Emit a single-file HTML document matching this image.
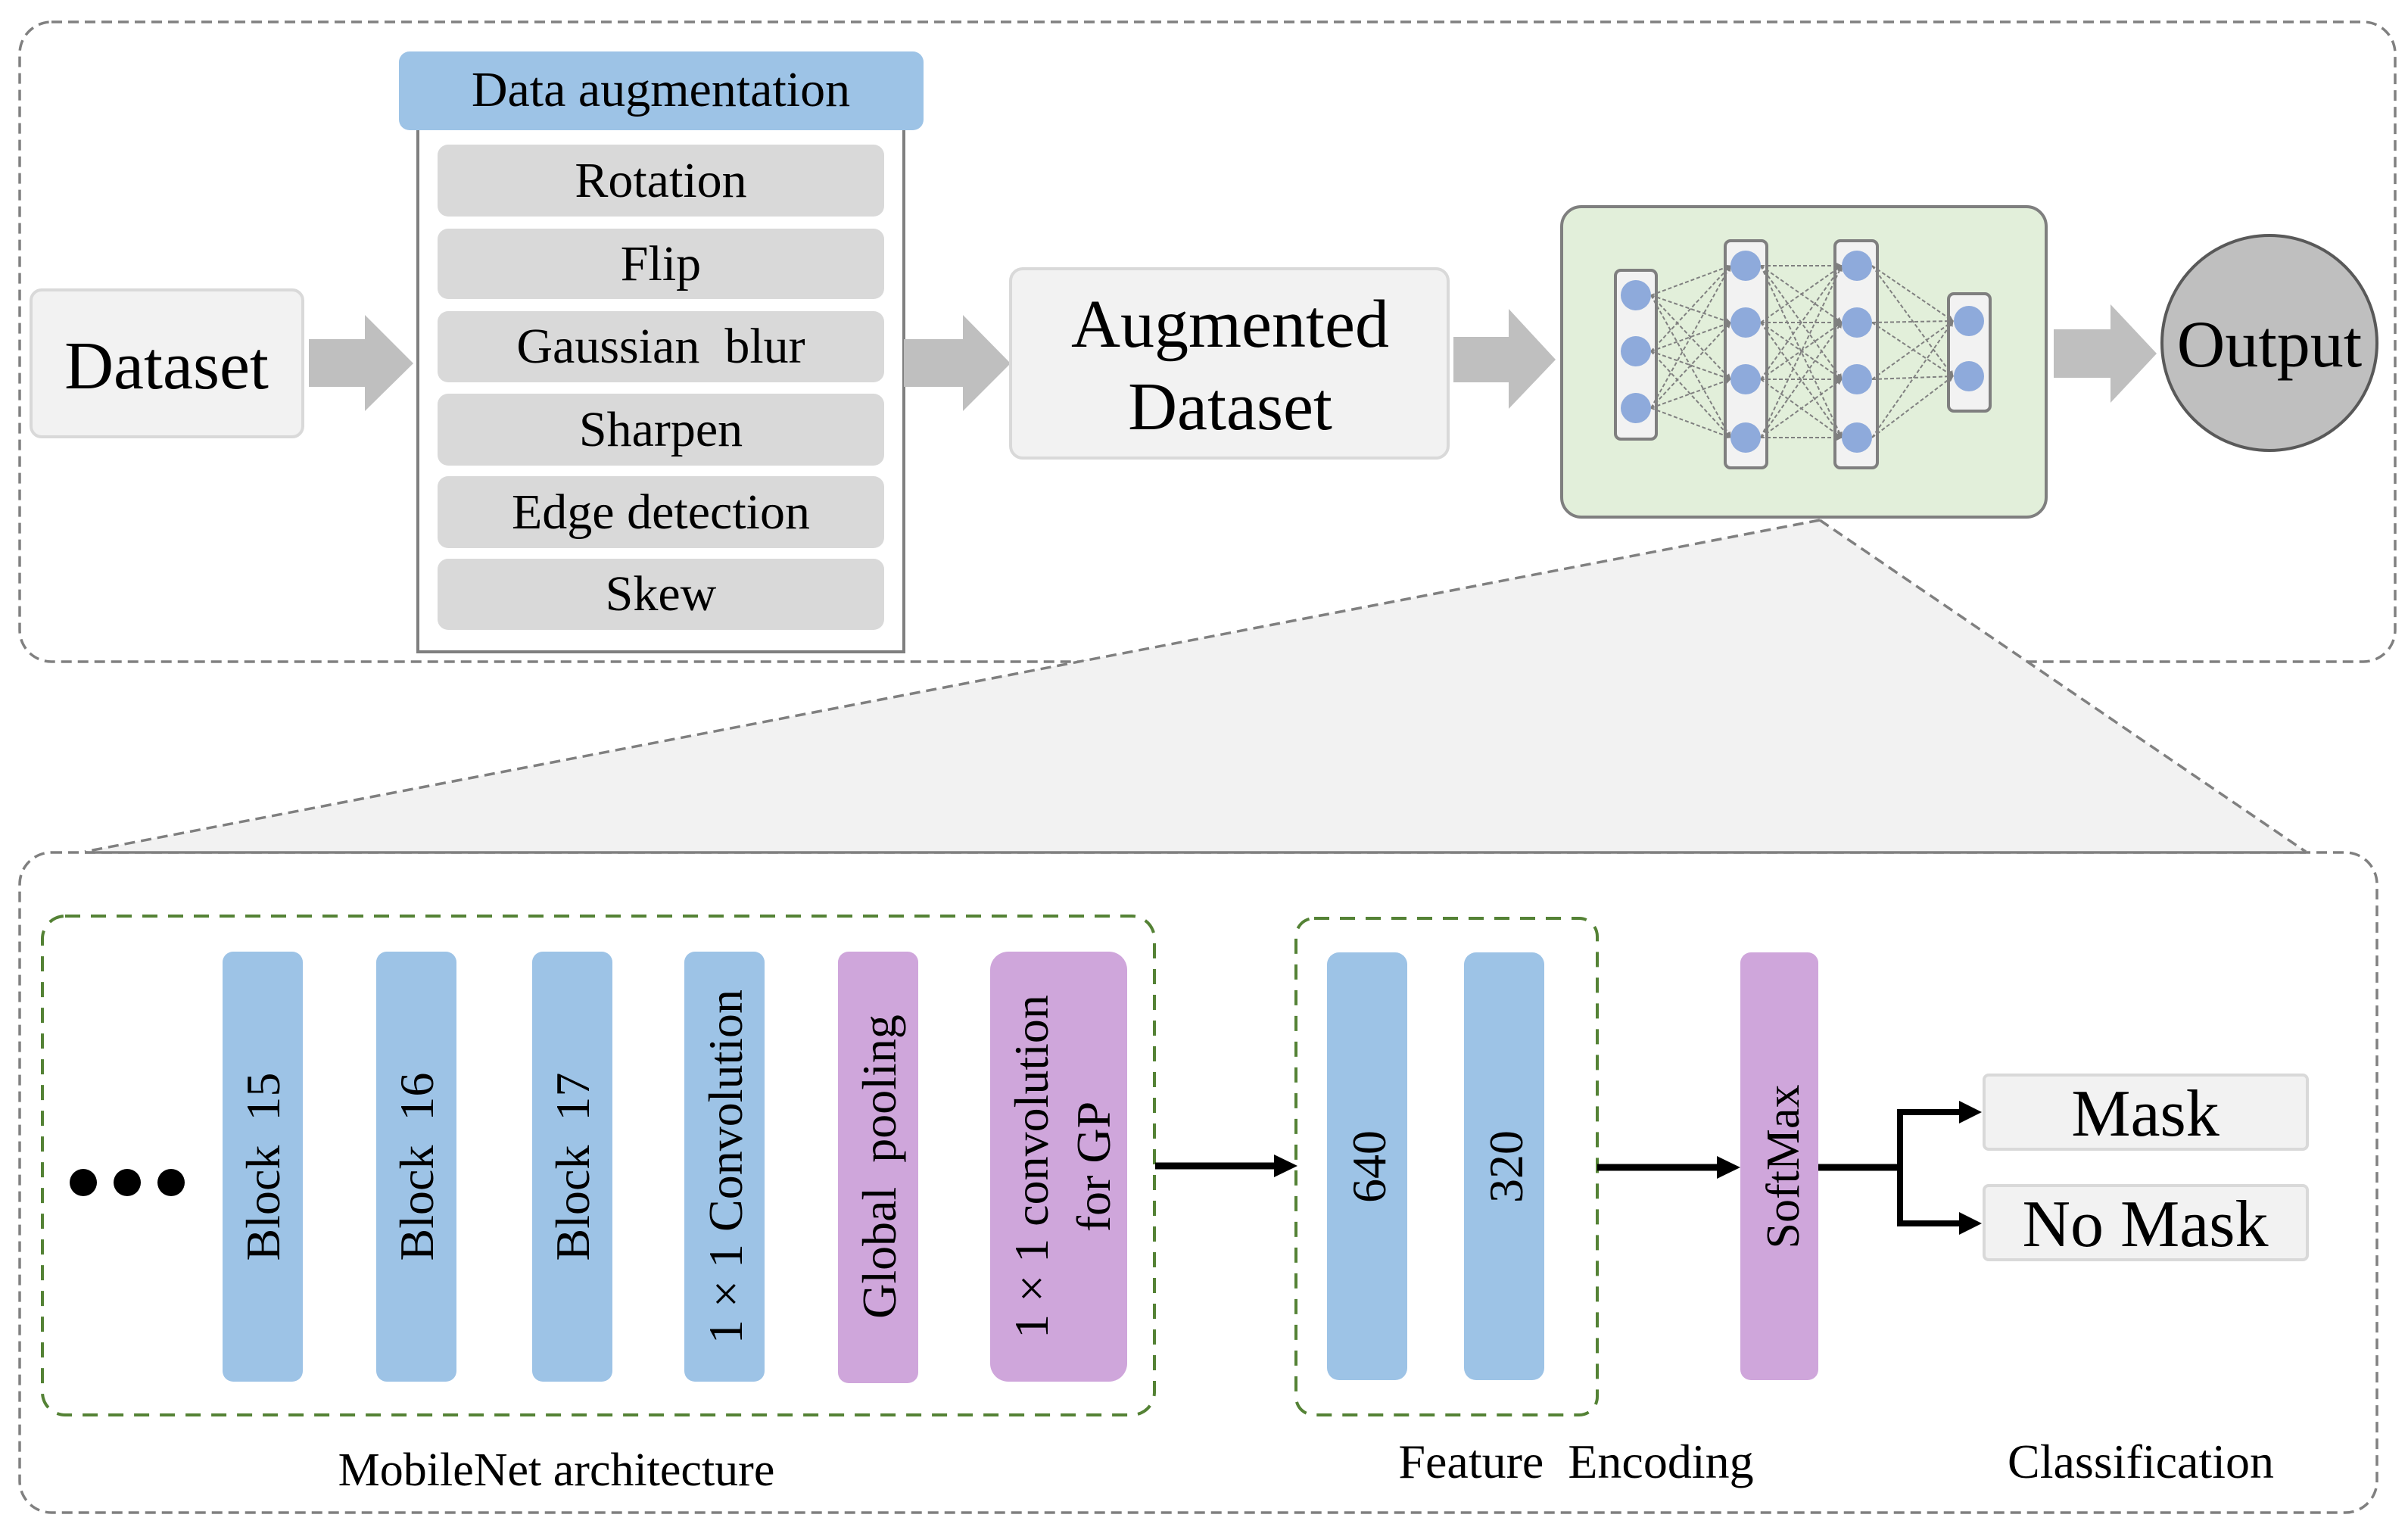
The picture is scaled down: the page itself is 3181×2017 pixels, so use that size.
<!DOCTYPE html>
<html><head><meta charset="utf-8"><style>
html,body{margin:0;padding:0;background:#fff;}
svg{display:block;}
text{font-family:"Liberation Serif",serif;fill:#000;}
</style></head><body>
<svg width="3181" height="2017" viewBox="0 0 3181 2017" xmlns="http://www.w3.org/2000/svg">
<defs>
<marker id="ah" markerWidth="8" markerHeight="8" refX="7" refY="4" orient="auto" markerUnits="userSpaceOnUse">
<path d="M0,0 L8,4 L0,8 z" fill="#7f7f7f"/></marker>
</defs>
<!-- top outer dashed box -->
<rect x="26" y="29" width="3138" height="845" rx="42" fill="none" stroke="#808080" stroke-width="3.5" stroke-dasharray="14 8"/>
<!-- bottom outer dashed box -->
<rect x="26" y="1126" width="3114" height="872" rx="42" fill="none" stroke="#808080" stroke-width="3.5" stroke-dasharray="14 8"/>
<!-- trapezoid zoom -->
<polygon points="2404,687 3046,1125 112,1125" fill="#f2f2f2"/>
<line x1="2404" y1="687" x2="112" y2="1125" stroke="#808080" stroke-width="3.5" stroke-dasharray="14 8"/>
<line x1="2404" y1="687" x2="3046" y2="1125" stroke="#808080" stroke-width="3.5" stroke-dasharray="14 8"/>
<line x1="112" y1="1126" x2="3046" y2="1126" stroke="#808080" stroke-width="3.5"/>

<!-- Dataset -->
<rect x="41" y="383" width="359" height="194" rx="14" fill="#f2f2f2" stroke="#d9d9d9" stroke-width="4"/>
<text x="220" y="513" font-size="90" text-anchor="middle">Dataset</text>
<!-- arrow1 -->
<polygon points="408,448 482,448 482,416 546,480 482,543 482,511 408,511" fill="#bfbfbf"/>
<!-- data augmentation container -->
<rect x="552" y="150" width="642" height="711" fill="#fff" stroke="#7f7f7f" stroke-width="4"/>
<rect x="527" y="68" width="693" height="104" rx="14" fill="#9dc3e6"/>
<text x="873" y="140" font-size="66" text-anchor="middle">Data augmentation</text>
<g font-size="66" text-anchor="middle">
<rect x="578" y="191" width="590" height="95" rx="14" fill="#d9d9d9"/><text x="873" y="260">Rotation</text>
<rect x="578" y="302" width="590" height="93" rx="14" fill="#d9d9d9"/><text x="873" y="370">Flip</text>
<rect x="578" y="411" width="590" height="94" rx="14" fill="#d9d9d9"/><text x="873" y="479">Gaussian&#160; blur</text>
<rect x="578" y="520" width="590" height="95" rx="14" fill="#d9d9d9"/><text x="873" y="589">Sharpen</text>
<rect x="578" y="629" width="590" height="95" rx="14" fill="#d9d9d9"/><text x="873" y="698">Edge detection</text>
<rect x="578" y="738" width="590" height="94" rx="14" fill="#d9d9d9"/><text x="873" y="806">Skew</text>
</g>
<!-- arrow2 -->
<polygon points="1194,448 1272,448 1272,416 1335,480 1272,543 1272,511 1194,511" fill="#bfbfbf"/>
<!-- augmented dataset -->
<rect x="1335" y="355" width="578" height="250" rx="16" fill="#f2f2f2" stroke="#d9d9d9" stroke-width="4"/>
<text x="1625" y="458" font-size="90" text-anchor="middle">Augmented</text>
<text x="1625" y="567" font-size="90" text-anchor="middle">Dataset</text>
<!-- arrow3 -->
<polygon points="1920,445 1993,445 1993,408 2055,475 1993,540 1993,505 1920,505" fill="#bfbfbf"/>
<!-- NN box -->
<rect x="2063" y="273" width="640" height="410" rx="26" fill="#e2efda" stroke="#7f7f7f" stroke-width="4"/>
<g fill="#f2f2f2" stroke="#7f7f7f" stroke-width="4">
<rect x="2134" y="357" width="54" height="223" rx="7"/>
<rect x="2279" y="318" width="55" height="300" rx="7"/>
<rect x="2424" y="318" width="56" height="300" rx="7"/>
<rect x="2574" y="388" width="55" height="155" rx="7"/>
</g>
<g stroke="#808080" stroke-width="2" stroke-dasharray="5 3" marker-end="url(#ah)">
<line x1="2181" y1="390" x2="2286" y2="351"/><line x1="2181" y1="390" x2="2286" y2="426"/><line x1="2181" y1="390" x2="2286" y2="501"/><line x1="2181" y1="390" x2="2286" y2="578"/>
<line x1="2181" y1="464" x2="2286" y2="351"/><line x1="2181" y1="464" x2="2286" y2="426"/><line x1="2181" y1="464" x2="2286" y2="501"/><line x1="2181" y1="464" x2="2286" y2="578"/>
<line x1="2181" y1="539" x2="2286" y2="351"/><line x1="2181" y1="539" x2="2286" y2="426"/><line x1="2181" y1="539" x2="2286" y2="501"/><line x1="2181" y1="539" x2="2286" y2="578"/>
<line x1="2326" y1="351" x2="2433" y2="351"/><line x1="2326" y1="351" x2="2433" y2="426"/><line x1="2326" y1="351" x2="2433" y2="501"/><line x1="2326" y1="351" x2="2433" y2="578"/>
<line x1="2326" y1="426" x2="2433" y2="351"/><line x1="2326" y1="426" x2="2433" y2="426"/><line x1="2326" y1="426" x2="2433" y2="501"/><line x1="2326" y1="426" x2="2433" y2="578"/>
<line x1="2326" y1="501" x2="2433" y2="351"/><line x1="2326" y1="501" x2="2433" y2="426"/><line x1="2326" y1="501" x2="2433" y2="501"/><line x1="2326" y1="501" x2="2433" y2="578"/>
<line x1="2326" y1="578" x2="2433" y2="351"/><line x1="2326" y1="578" x2="2433" y2="426"/><line x1="2326" y1="578" x2="2433" y2="501"/><line x1="2326" y1="578" x2="2433" y2="578"/>
<line x1="2473" y1="351" x2="2580" y2="424"/><line x1="2473" y1="351" x2="2580" y2="497"/>
<line x1="2473" y1="426" x2="2580" y2="424"/><line x1="2473" y1="426" x2="2580" y2="497"/>
<line x1="2473" y1="501" x2="2580" y2="424"/><line x1="2473" y1="501" x2="2580" y2="497"/>
<line x1="2473" y1="578" x2="2580" y2="424"/><line x1="2473" y1="578" x2="2580" y2="497"/>
</g>
<g fill="#8eaadb">
<circle cx="2161" cy="390" r="20"/><circle cx="2161" cy="464" r="20"/><circle cx="2161" cy="539" r="20"/>
<circle cx="2306" cy="351" r="20"/><circle cx="2306" cy="426" r="20"/><circle cx="2306" cy="501" r="20"/><circle cx="2306" cy="578" r="20"/>
<circle cx="2453" cy="351" r="20"/><circle cx="2453" cy="426" r="20"/><circle cx="2453" cy="501" r="20"/><circle cx="2453" cy="578" r="20"/>
<circle cx="2601" cy="424" r="20"/><circle cx="2601" cy="497" r="20"/>
</g>
<!-- arrow4 -->
<polygon points="2713,435 2788,435 2788,402 2849,467 2788,532 2788,499 2713,499" fill="#bfbfbf"/>
<!-- output -->
<circle cx="2998" cy="453" r="142" fill="#bfbfbf" stroke="#595959" stroke-width="4"/>
<text x="2998" y="484" font-size="88" text-anchor="middle">Output</text>

<!-- Mobilenet dashed green -->
<rect x="56" y="1210" width="1469" height="659" rx="30" fill="none" stroke="#548235" stroke-width="4" stroke-dasharray="20 14"/>
<circle cx="110" cy="1562" r="18"/><circle cx="168" cy="1562" r="18"/><circle cx="226" cy="1562" r="18"/>
<g fill="#9dc3e6">
<rect x="294" y="1257" width="106" height="568" rx="14"/>
<rect x="497" y="1257" width="106" height="568" rx="14"/>
<rect x="703" y="1257" width="106" height="568" rx="14"/>
<rect x="904" y="1257" width="106" height="568" rx="14"/>
</g>
<g fill="#cfa6db">
<rect x="1107" y="1257" width="106" height="570" rx="14"/>
<rect x="1308" y="1257" width="181" height="568" rx="24"/>
</g>
<g font-size="64" text-anchor="middle">
<text transform="translate(369,1541) rotate(-90)">Block&#160; 15</text>
<text transform="translate(572,1541) rotate(-90)">Block&#160; 16</text>
<text transform="translate(778,1541) rotate(-90)">Block&#160; 17</text>
<text transform="translate(980,1541) rotate(-90)">1 × 1 Convolution</text>
<text transform="translate(1183,1541) rotate(-90)">Global&#160; pooling</text>
<text transform="translate(1384,1541) rotate(-90)">1 × 1 convolution</text>
<text transform="translate(1466,1541) rotate(-90)">for GP</text>
</g>
<text x="735" y="1962" font-size="62" text-anchor="middle">MobileNet architecture</text>
<!-- arrow to FE -->
<line x1="1526" y1="1540" x2="1685" y2="1540" stroke="#000" stroke-width="9"/>
<polygon points="1683,1525 1714,1540 1683,1555" fill="#000"/>
<!-- FE -->
<rect x="1712" y="1213" width="398" height="656" rx="24" fill="none" stroke="#548235" stroke-width="4" stroke-dasharray="20 14"/>
<rect x="1753" y="1258" width="106" height="565" rx="16" fill="#9dc3e6"/>
<rect x="1934" y="1258" width="106" height="565" rx="16" fill="#9dc3e6"/>
<text transform="translate(1830,1541) rotate(-90)" font-size="64" text-anchor="middle">640</text>
<text transform="translate(2011,1541) rotate(-90)" font-size="64" text-anchor="middle">320</text>
<text x="2082" y="1952" font-size="64" text-anchor="middle">Feature&#160; Encoding</text>
<!-- arrow to softmax -->
<line x1="2110" y1="1542" x2="2270" y2="1542" stroke="#000" stroke-width="9"/>
<polygon points="2268,1527 2299,1542 2268,1557" fill="#000"/>
<rect x="2299" y="1258" width="103" height="565" rx="14" fill="#cfa6db"/>
<text transform="translate(2376,1541) rotate(-90)" font-size="62" text-anchor="middle">SoftMax</text>
<!-- branch -->
<line x1="2402" y1="1542" x2="2510" y2="1542" stroke="#000" stroke-width="9"/>
<path d="M2590,1469 L2510,1469 L2510,1616 L2590,1616" fill="none" stroke="#000" stroke-width="8"/>
<polygon points="2588,1454 2618,1469 2588,1484" fill="#000"/>
<polygon points="2588,1601 2618,1616 2588,1631" fill="#000"/>
<rect x="2621" y="1420" width="427" height="98" rx="6" fill="#f2f2f2" stroke="#d9d9d9" stroke-width="4"/>
<rect x="2621" y="1566" width="427" height="98" rx="6" fill="#f2f2f2" stroke="#d9d9d9" stroke-width="4"/>
<text x="2834" y="1500" font-size="88" text-anchor="middle">Mask</text>
<text x="2834" y="1646" font-size="88" text-anchor="middle">No Mask</text>
<text x="2828" y="1952" font-size="64" text-anchor="middle">Classification</text>
</svg>
</body></html>
